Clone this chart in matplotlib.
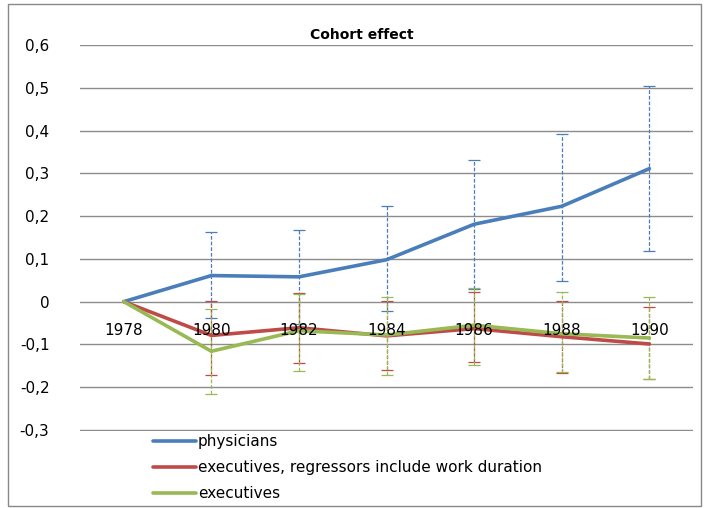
import matplotlib
matplotlib.use("Agg")
from matplotlib import pyplot as plt
from matplotlib.patches import Rectangle
import numpy as np

years = ["1978", "1980", "1982", "1984", "1986", "1988", "1990"]
yticks = [-0.3, -0.2, -0.1, 0, 0.1, 0.2, 0.3, 0.4, 0.5, 0.6]

# physicians
phys = [0, 0.061, 0.058, 0.098, 0.181, 0.223, 0.311]
phys_lo = [0, -0.039, -0.052, -0.023, 0.030, 0.049, 0.118]
phys_hi = [0, 0.162, 0.168, 0.223, 0.330, 0.393, 0.505]

# executives, regressors include work duration
exw = [0, -0.079, -0.061, -0.080, -0.063, -0.082, -0.099]
exw_lo = [0, -0.171, -0.143, -0.160, -0.142, -0.166, -0.182]
exw_hi = [0, 0.001, 0.021, 0.002, 0.023, 0.002, -0.013]

# executives
ex = [0, -0.116, -0.068, -0.078, -0.055, -0.075, -0.085]
ex_lo = [0, -0.217, -0.163, -0.171, -0.147, -0.164, -0.181]
ex_hi = [0, -0.017, 0.018, 0.010, 0.031, 0.022, 0.010]

series = [
    ("physicians", phys, phys_lo, phys_hi, "#4a7ebb"),
    ("executives, regressors include work duration", exw, exw_lo, exw_hi, "#be4b48"),
    ("executives", ex, ex_lo, ex_hi, "#98b954"),
]

plt.rcParams['font.family'] = ['DejaVu Sans']

fig = plt.figure(figsize=(7.04, 5.08), dpi=100)
fig.patches.append(Rectangle((0.012, 0.004), 0.984, 0.988, transform=fig.transFigure,
                             fill=False, edgecolor="#888888", linewidth=1))
ax = fig.add_axes([0.1136, 0.1515, 0.871, 0.7599])

x = np.arange(len(years))
handles = []
for name, val, lo, hi, col in series:
    val = np.array(val)
    err = [val - np.array(lo), np.array(hi) - val]
    line, caps, bars = ax.errorbar(x[1:], val[1:], yerr=[err[0][1:], err[1][1:]],
                                   fmt="none", ecolor=col, elinewidth=0.9,
                                   capsize=4, capthick=0.9, zorder=3)
    bars[0].set_linestyle((0, (3, 1.5)))
    h, = ax.plot(x, val, color=col, linewidth=2.6, zorder=4, label=name,
                 solid_capstyle="round")
    handles.append(h)

ax.set_xlim(-0.5, len(years) - 0.5)
ax.set_ylim(-0.3025, 0.6)
ax.set_yticks(yticks)
ax.set_yticklabels([("%g" % v).replace(".", ",") for v in yticks], fontsize=11)
ax.yaxis.grid(True, color="#8c8c8c", linewidth=1)
ax.set_axisbelow(True)
ax.set_xticks([])
ax.tick_params(axis="y", length=0, pad=22)
for s in ax.spines.values():
    s.set_visible(False)

for i, lbl in enumerate(years):
    ax.annotate(lbl, (i, 0), xytext=(0, -21), textcoords="offset points",
                ha="center", va="center", fontsize=11, zorder=5)

fig.text(0.514, 0.932, "Cohort effect", fontsize=10, fontweight="bold",
         ha="center", va="center")

fig.legend(handles=handles, loc="upper left", bbox_to_anchor=(0.207, 0.161),
           frameon=False, fontsize=11, handlelength=2.8, handletextpad=0.1,
           labelspacing=0.72, borderpad=0)

fig.savefig("out.png", dpi=100)
